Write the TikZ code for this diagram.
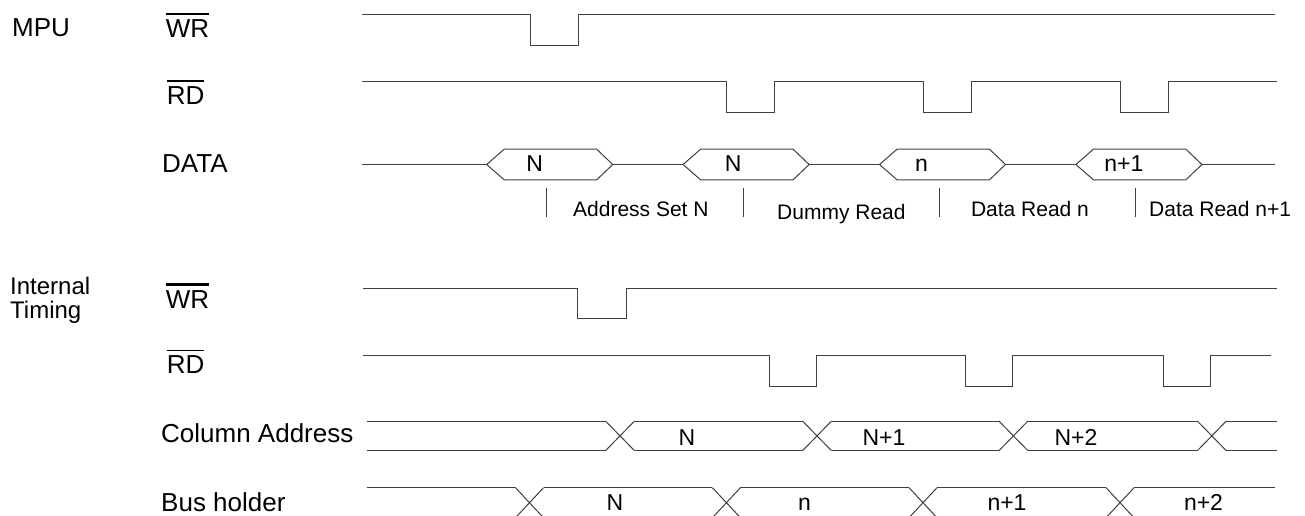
\documentclass[tikz,border=0pt]{standalone}
\usepackage{fontspec}
\setmainfont{Liberation Sans}
\usetikzlibrary{positioning}

\newcommand{\ovl}[2]{\leavevmode\vbox{\hrule height #1\kern 4.5pt\hbox{#2}}}

\begin{document}
\begin{tikzpicture}[x=1pt,y=-1pt,
		wave/.style={draw=black!75,line width=1pt},
		sig/.style={anchor=base west,inner sep=0pt,font=\fontsize{26}{28}\selectfont},
		val/.style={anchor=base,inner sep=0pt,font=\fontsize{23}{25}\selectfont},
		note/.style={anchor=base west,inner sep=0pt,font=\fontsize{21}{24}\selectfont}
	]
	\clip (0,0) rectangle (1305,515);

	\draw
		node[sig] (mpu)  at (12,36)      {MPU}
		node[sig] (wra)  at (165.7,37.5) {\ovl{2.5pt}{WR}}
		node[sig] (rda)  at (166.7,104)  {\ovl{1.2pt}{RD}}
		node[sig] (data) at (162,172)    {DATA}
		node[sig,font=\fontsize{24}{26}\selectfont] (int) at (10,294) {Internal}
		node[sig,font=\fontsize{24}{26}\selectfont] (tim) at (10,318) {Timing}
		node[sig] (wrb)  at (165.7,308)  {\ovl{2.5pt}{WR}}
		node[sig] (rdb)  at (166.7,373.5){\ovl{1.2pt}{RD}}
		node[sig] (col)  at (161,442)    {Column Address}
		node[sig] (bus)  at (161,511)    {Bus holder}
	;

	\draw[wave] (362,14.3) -- (530,14.3) -- (530,45) -- (578,45) -- (578,14.3) -- (1275,14.3);
	\draw[wave] (362,81) \foreach \x in {726.4,923.6,1120.8}
		{ -- (\x,81) -- (\x,112.3) -- (\x+48,112.3) -- (\x+48,81)} -- (1277,81);

	\draw[wave] (362,164.5) -- (1274.5,164.5);
	\foreach \x/\v/\d [count=\i] in {486.7/N/48,683.1/N/50,879.5/n/42,1075.9/n+1/48}{
		\filldraw[wave,fill=white] (\x,164.5) -- (\x+17.5,149.2) -- (\x+110,149.2)
			-- (\x+126,164.5) -- (\x+110,179.8) -- (\x+17.5,179.8) -- cycle;
		\node[val] (d\i) at (\x+\d,171) {\v};
		\draw[wave] (\x+60,188) -- (\x+60,217);
	}
	\draw
		node[note] (p1) at (573,216)   {Address Set N}
		node[note] (p2) at (777,219)   {Dummy Read}
		node[note] (p3) at (970.8,216) {Data Read n}
		node[note] (p4) at (1149,216)  {Data Read n+1}
	;

	\draw[wave] (363,288.3) -- (577.7,288.3) -- (577.7,318.3) -- (626.7,318.3) -- (626.7,288.3) -- (1277,288.3);
	\draw[wave] (363,355.7) \foreach \x in {769,965.4,1163}
		{ -- (\x,355.7) -- (\x,386) -- (\x+47.5,386) -- (\x+47.5,355.7)} -- (1271,355.7);

	\foreach \a/\b in {366.7/605.5,634.5/802.5,831.5/998.9,1027.9/1197.3,1226.3/1276.6}
		\draw[wave] (\a,421) -- (\b,421) (\a,450.7) -- (\b,450.7);
	\foreach \c in {620,817,1013.4,1211.8}
		\draw[wave] (\c-14.5,421) -- (\c+14.5,450.7) (\c-14.5,450.7) -- (\c+14.5,421);
	\foreach \x/\v [count=\i] in {686.8/N,884/N+1,1076/N+2}
		\node[val] (c\i) at (\x,445) {\v};

	\foreach \a/\b in {366.7/515.5,543.5/712.4,740.4/909,937/1106,1134/1274.5}
		\draw[wave] (\a,487.7) -- (\b,487.7) (\a,517.7) -- (\b,517.7);
	\foreach \c in {529.5,726.4,923,1120}
		\draw[wave] (\c-14,487.7) -- (\c+14,517.7) (\c-14,517.7) -- (\c+14,487.7);
	\foreach \x/\v [count=\i] in {615/N,804.6/n,1007/n+1,1203.5/n+2}
		\node[val] (b\i) at (\x,510.5) {\v};
\end{tikzpicture}
\end{document}
